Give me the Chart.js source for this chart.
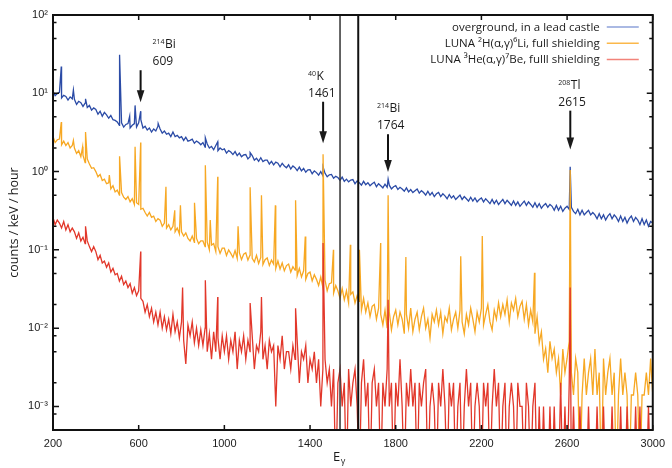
<!DOCTYPE html>
<html>
<head>
<meta charset="utf-8">
<script src="https://cdn.jsdelivr.net/npm/chart.js@4/dist/chart.umd.min.js"></script>
<style>
  body { margin: 0; background: #fff; }
  canvas { display: block; }
</style>
</head>
<body>
<canvas id="spectrum" width="672" height="468"></canvas>
<script>
// Channel grid of the spectra (keV), one value every 10 keV from 200 to 3000.
const E_START = 200;
const E_STEP = 10;

// Overground detector, in a lead castle (counts / keV / hour)
const blueValues = [
  10.6, 9.3, 9.9, 10.3, 8.7, 9.4, 9.1, 8.2, 9.0, 8.5,
  8.4, 7.2, 7.9, 7.6, 6.8, 7.5, 6.6, 7.0, 6.1, 6.5,
  6.2, 5.4, 5.9, 5.1, 5.7, 5.3, 4.8, 5.2, 4.6, 4.5,
  4.3, 3.9, 4.2, 3.7, 4.0, 4.1, 3.6, 3.9, 4.1, 3.7,
  4.2, 4.6, 3.6, 3.8, 3.4, 3.6, 3.2, 3.5, 3.3, 3.8,
  3.5, 3.1, 3.3, 3.0, 3.1, 2.8, 3.2, 2.8, 2.9, 2.7,
  2.8, 2.5, 2.75, 2.45, 2.5, 2.6, 2.3, 2.45, 2.35, 2.2,
  2.35, 2.05, 2.25, 2.0, 2.1, 1.9, 2.15, 1.85, 2.0, 1.9,
  1.95, 1.72, 1.85, 1.78, 1.65, 1.8, 1.6, 1.72, 1.55, 1.63,
  1.65, 1.45, 1.55, 1.6, 1.4, 1.48, 1.35, 1.5, 1.34, 1.4,
  1.4, 1.25, 1.35, 1.22, 1.32, 1.28, 1.15, 1.27, 1.18, 1.12,
  1.22, 1.08, 1.18, 1.12, 1.03, 1.14, 1.02, 1.1, 0.98, 1.05,
  1.06, 0.94, 1.02, 0.97, 0.9, 1.0, 0.88, 0.95, 0.86, 0.91,
  0.92, 0.82, 0.87, 0.84, 0.77, 0.85, 0.75, 0.8, 0.74, 0.78,
  0.79, 0.7, 0.76, 0.72, 0.67, 0.75, 0.68, 0.72, 0.66, 0.7,
  0.73, 0.64, 0.7, 0.66, 0.62, 0.69, 0.63, 0.67, 0.6, 0.64,
  0.66, 0.59, 0.63, 0.6, 0.56, 0.62, 0.55, 0.59, 0.54, 0.57,
  0.6, 0.53, 0.57, 0.54, 0.5, 0.56, 0.5, 0.54, 0.48, 0.52,
  0.54, 0.48, 0.52, 0.49, 0.45, 0.51, 0.46, 0.49, 0.44, 0.47,
  0.5, 0.44, 0.48, 0.45, 0.42, 0.47, 0.42, 0.46, 0.41, 0.44,
  0.46, 0.41, 0.45, 0.42, 0.39, 0.44, 0.39, 0.43, 0.38, 0.41,
  0.44, 0.39, 0.43, 0.4, 0.37, 0.42, 0.37, 0.41, 0.36, 0.39,
  0.42, 0.37, 0.41, 0.38, 0.35, 0.4, 0.35, 0.39, 0.34, 0.37,
  0.39, 0.35, 0.38, 0.36, 0.32, 0.37, 0.32, 0.36, 0.31, 0.34,
  0.36, 0.33, 0.35, 0.31, 0.29, 0.33, 0.28, 0.32, 0.28, 0.3,
  0.32, 0.28, 0.3, 0.28, 0.25, 0.29, 0.25, 0.28, 0.24, 0.27,
  0.29, 0.25, 0.28, 0.26, 0.23, 0.27, 0.23, 0.26, 0.22, 0.25,
  0.27, 0.23, 0.26, 0.24, 0.21, 0.25, 0.21, 0.24, 0.2, 0.23,
  0.22
];
const bluePeakE = [238.6, 295.2, 351.9, 510.8, 558, 583.2, 609.3, 691, 911.2, 969, 1120.3, 1460.8, 1764.5, 2614.5];
const bluePeakV = [22, 11, 8.5, 31, 5.1, 7.0, 5.9, 4.1, 2.7, 2.4, 1.75, 1.15, 0.8, 1.15];

// LUNA 2H(a,g)6Li, full shielding
const orangeValues = [
  2.8, 2.35, 2.55, 2.6, 2.2, 2.45, 2.15, 2.35, 2.0, 2.15,
  2.0, 1.7, 1.85, 1.55, 1.62, 1.3, 1.45, 1.25, 1.1, 1.12,
  1.0, 0.86, 0.92, 0.77, 0.8, 0.7, 0.72, 0.6, 0.66, 0.55,
  0.58, 0.5, 0.54, 0.47, 0.44, 0.48, 0.41, 0.45, 0.38, 0.4,
  0.38, 0.33, 0.34, 0.3, 0.27, 0.3, 0.26, 0.27, 0.23, 0.25,
  0.24, 0.2, 0.22, 0.19, 0.21, 0.18, 0.2, 0.17, 0.19, 0.16,
  0.17, 0.15, 0.165, 0.14, 0.13, 0.15, 0.125, 0.14, 0.12, 0.13,
  0.13, 0.11, 0.125, 0.1, 0.115, 0.12, 0.095, 0.11, 0.09, 0.105,
  0.105, 0.085, 0.1, 0.09, 0.08, 0.098, 0.078, 0.092, 0.075, 0.088,
  0.092, 0.074, 0.086, 0.078, 0.07, 0.085, 0.067, 0.08, 0.065, 0.075,
  0.079, 0.063, 0.074, 0.066, 0.058, 0.072, 0.057, 0.068, 0.054, 0.063,
  0.066, 0.052, 0.061, 0.055, 0.047, 0.058, 0.045, 0.054, 0.042, 0.05,
  0.052, 0.04, 0.048, 0.042, 0.035, 0.045, 0.033, 0.041, 0.03, 0.037,
  0.038, 0.028, 0.035, 0.03, 0.024, 0.032, 0.023, 0.03, 0.021, 0.027,
  0.029, 0.021, 0.026, 0.022, 0.017, 0.024, 0.016, 0.021, 0.014, 0.019,
  0.02, 0.013, 0.018, 0.015, 0.011, 0.017, 0.01, 0.016, 0.0095, 0.014,
  0.017, 0.011, 0.016, 0.013, 0.0085, 0.015, 0.01, 0.018, 0.009, 0.013,
  0.016, 0.0095, 0.014, 0.018, 0.01, 0.013, 0.0075, 0.015, 0.012, 0.017,
  0.011, 0.016, 0.0085, 0.014, 0.012, 0.018, 0.0095, 0.013, 0.016, 0.01,
  0.017, 0.012, 0.0085, 0.015, 0.011, 0.018, 0.013, 0.009, 0.016, 0.012,
  0.018, 0.011, 0.015, 0.02, 0.012, 0.0095, 0.017, 0.013, 0.021, 0.014,
  0.02, 0.015, 0.023, 0.012, 0.021, 0.017, 0.024, 0.014, 0.019, 0.022,
  0.013, 0.02, 0.011, 0.017, 0.012, 0.0085, 0.014, 0.0065, 0.009, 0.004,
  0.0055, 0.0027, 0.0068, 0.0041, 0.0054, 0.0027, 0.0041, 0.0014, 0.0054, 0.0027,
  0.0041, 0.0068, 0.0027, 0.0014, 0.0041, 0.0027, 0, 0.0014, 0.0041, 0.0014,
  0.0027, 0.0041, 0.0014, 0.0054, 0.0014, 0.0027, 0, 0.0041, 0.0014, 0.0027,
  0.0041, 0.0014, 0.0027, 0, 0.0014, 0.0041, 0.0014, 0.0027, 0.0014, 0,
  0.0014, 0.0014, 0.0027, 0.0014, 0, 0.0014, 0.0014, 0.0027, 0.0014, 0.0041,
  0.0014
];
const orangePeakE = [238.6, 295.2, 338.3, 351.9, 463, 510.8, 583.2, 609.3, 727.3, 768.4, 794.9, 860.6,
  911.2, 934.1, 969, 1064, 1120.3, 1173.2, 1238.1, 1332.5, 1377.7, 1460.8, 1509.2, 1588.2,
  1630.6, 1729.6, 1764.5, 1847.4, 2103.5, 2204.1, 2447.9, 2614.5];
const orangePeakV = [4.3, 2.5, 2.07, 3.2, 0.9, 1.57, 2.07, 2.35, 0.64, 0.32, 0.37, 0.4,
  1.2, 0.24, 0.86, 0.2, 0.63, 0.5, 0.37, 0.43, 0.148, 1.67, 0.1, 0.116,
  0.1, 0.122, 0.5, 0.081, 0.083, 0.15, 0.051, 1.05];

// LUNA 3He(a,g)7Be, full shielding
const redValues = [
  0.26, 0.21, 0.24, 0.22, 0.19, 0.23, 0.18, 0.21, 0.17, 0.19,
  0.17, 0.14, 0.165, 0.13, 0.145, 0.12, 0.13, 0.11, 0.095, 0.11,
  0.095, 0.075, 0.085, 0.068, 0.072, 0.06, 0.068, 0.052, 0.058, 0.048,
  0.05, 0.04, 0.046, 0.036, 0.04, 0.033, 0.037, 0.028, 0.033, 0.026,
  0.03, 0.024, 0.022, 0.016, 0.02, 0.014, 0.018, 0.012, 0.016, 0.011,
  0.016, 0.01, 0.014, 0.0095, 0.013, 0.0085, 0.015, 0.009, 0.012, 0.0075,
  0.012, 0.007, 0.0035, 0.011, 0.008, 0.012, 0.0065, 0.01, 0.006, 0.0095,
  0.006, 0.01, 0.005, 0.0085, 0.004, 0.009, 0.005, 0.0075, 0.004, 0.008,
  0.005, 0.008, 0.004, 0.007, 0.005, 0.009, 0.003, 0.007, 0.005, 0.008,
  0.004, 0.007, 0.005, 0.008, 0.003, 0.006, 0.005, 0.009, 0.004, 0.006,
  0.003, 0.007, 0.005, 0.006, 0.001, 0.006, 0.004, 0.008, 0.003, 0.005,
  0.005, 0.003, 0.006, 0.004, 0.007, 0.002, 0.005, 0.004, 0.006, 0.002,
  0.004, 0.003, 0.005, 0.002, 0.004, 0.001, 0.003, 0.004, 0.002, 0.003,
  0.001, 0.003, 0, 0.002, 0.003, 0.001, 0.002, 0, 0.003, 0.001,
  0.002, 0.003, 0.001, 0, 0.002, 0.004, 0.001, 0.002, 0, 0.002,
  0.003, 0.001, 0.002, 0, 0.002, 0.001, 0.003, 0.001, 0.002, 0,
  0.002, 0.001, 0.004, 0.001, 0, 0.002, 0.001, 0.003, 0.001, 0.002,
  0, 0.002, 0.001, 0.002, 0.003, 0, 0.001, 0.002, 0.001, 0,
  0.002, 0.001, 0.003, 0.001, 0, 0.002, 0.001, 0.002, 0, 0.001,
  0.002, 0, 0.001, 0.003, 0.001, 0.002, 0, 0.001, 0.002, 0.001,
  0, 0.002, 0.001, 0.002, 0, 0.001, 0.003, 0.001, 0.002, 0,
  0.001, 0.002, 0, 0.001, 0.002, 0.001, 0, 0.002, 0.001, 0.001,
  0, 0.002, 0.001, 0, 0.001, 0.002, 0, 0.001, 0, 0.001,
  0, 0, 0.001, 0, 0.001, 0, 0, 0.002, 0, 0.001,
  0, 0.002, 0, 0.001, 0, 0, 0.001, 0, 0, 0,
  0.001, 0, 0, 0, 0.001, 0, 0, 0.001, 0, 0,
  0, 0.001, 0, 0, 0, 0.001, 0, 0, 0.001, 0,
  0, 0, 0.001, 0, 0.001, 0, 0, 0, 0.001, 0,
  0
];
const redPeakE = [351.9, 609.3, 805, 911.2, 969, 1120.3, 1173.2, 1332.5, 1460.8, 1764.5, 2614.5];
const redPeakV = [0.2, 0.095, 0.033, 0.041, 0.025, 0.021, 0.025, 0.018, 0.122, 0.023, 0.033];

const seriesLabels = [
  'overground, in a lead castle',
  'LUNA ²H(α,γ)⁶Li, full shielding',
  'LUNA ³He(α,γ)⁷Be, fulll shielding'
];

// Axis ticks
const xTickValues = [200, 600, 1000, 1400, 1800, 2200, 2600, 3000];
const yTickValues = [0.001, 0.01, 0.1, 1, 10, 100];
const yMinorFactors = [2, 5, 8];

// The two vertical marker lines (keV)
const cutEnergies = [1540, 1625];

// Peak annotations: arrow start / tip in counts/keV/hour
const annoEnergy = [609, 1461, 1764, 2615];
const annoIso = ['214', '40', '214', '208'];
const annoElem = ['Bi', 'K', 'Bi', 'Tl'];
const annoArrowTop = [19.7, 7.8, 3.0, 6.0];
const annoArrowTip = [7.7, 2.3, 0.99, 1.92];
const annoDx = [12, -15, -11, -12];

// zero-count channels are drawn down past the bottom of the axis
const ZERO_FLOOR = 1e-4;

function buildPoints(values, peakE, peakV) {
  const pts = values.map((v, i) => ({ x: E_START + i * E_STEP, y: v > 0 ? v : ZERO_FLOOR }));
  peakE.forEach((e, i) => pts.push({ x: e, y: peakV[i] }));
  pts.sort((a, b) => a.x - b.x);
  return pts;
}

const SUP = { '-': '⁻', '0': '⁰', '1': '¹', '2': '²', '3': '³' };
const legendColors = ['#8ea2da', '#fbb84a', '#f2837a'];
const TEXT = '#1a1a1a';

const decorations = {
  id: 'decorations',
  afterDatasetsDraw(chart) {
    const { ctx, chartArea: a, scales: { x, y } } = chart;
    ctx.save();

    // vertical marker lines
    cutEnergies.forEach((e, i) => {
      const px = x.getPixelForValue(e);
      ctx.lineWidth = i == 0 ? 1.5 : 2;
      ctx.strokeStyle = i == 0 ? '#333' : '#111';
      ctx.beginPath(); ctx.moveTo(px, a.top); ctx.lineTo(px, a.bottom); ctx.stroke();
    });

    // frame
    ctx.strokeStyle = '#111';
    ctx.lineWidth = 2;
    ctx.strokeRect(a.left, a.top, a.right - a.left, a.bottom - a.top);

    // inward ticks
    ctx.lineWidth = 1.5;
    ctx.beginPath();
    xTickValues.forEach(v => {
      const px = x.getPixelForValue(v);
      ctx.moveTo(px, a.bottom); ctx.lineTo(px, a.bottom - 5);
      ctx.moveTo(px, a.top); ctx.lineTo(px, a.top + 5);
    });
    const minor = m => {
      if (m < y.min || m > y.max) return;
      const pm = y.getPixelForValue(m);
      ctx.moveTo(a.left, pm); ctx.lineTo(a.left + 3.5, pm);
      ctx.moveTo(a.right, pm); ctx.lineTo(a.right - 3.5, pm);
    };
    yTickValues.forEach(v => {
      const py = y.getPixelForValue(v);
      ctx.moveTo(a.left, py); ctx.lineTo(a.left + 6, py);
      ctx.moveTo(a.right, py); ctx.lineTo(a.right - 6, py);
      yMinorFactors.forEach(f => minor(v * f));
    });
    yMinorFactors.forEach(f => minor(yTickValues[0] / 10 * f));
    ctx.stroke();

    // annotations with arrows
    ctx.fillStyle = TEXT;
    ctx.strokeStyle = '#111';
    ctx.textAlign = 'left';
    ctx.textBaseline = 'alphabetic';
    annoEnergy.forEach((e, i) => {
      const px = x.getPixelForValue(e);
      const top = y.getPixelForValue(annoArrowTop[i]);
      const tip = y.getPixelForValue(annoArrowTip[i]);
      const left = px + annoDx[i];
      ctx.font = '7px "Open Sans", sans-serif';
      ctx.fillText(annoIso[i], left, top - 26);
      const w = ctx.measureText(annoIso[i]).width;
      ctx.font = '12px "Open Sans", sans-serif';
      ctx.fillText(annoElem[i], left + w + 0.5, top - 22);
      ctx.fillText(String(annoEnergy[i]), left, top - 5);
      ctx.lineWidth = 2;
      ctx.beginPath(); ctx.moveTo(px, top); ctx.lineTo(px, tip - 8); ctx.stroke();
      ctx.beginPath();
      ctx.moveTo(px - 3.8, tip - 12); ctx.lineTo(px + 3.8, tip - 12); ctx.lineTo(px, tip);
      ctx.closePath(); ctx.fill();
    });

    // legend, top right
    ctx.font = '11.5px "Open Sans", sans-serif';
    ctx.textAlign = 'right';
    seriesLabels.forEach((lab, i) => {
      const base = a.top + 15.5 + i * 16.3;
      ctx.fillStyle = TEXT;
      ctx.fillText(lab, a.right - 53, base);
      ctx.strokeStyle = legendColors[i];
      ctx.lineWidth = 1.5;
      ctx.beginPath(); ctx.moveTo(a.right - 46, base - 3.5); ctx.lineTo(a.right - 14, base - 3.5); ctx.stroke();
    });

    // axis titles
    ctx.fillStyle = TEXT;
    ctx.textAlign = 'left';
    ctx.font = '13px "Open Sans", sans-serif';
    const ex = a.left + (a.right - a.left) * 0.467;
    ctx.fillText('E', ex, a.bottom + 31);
    const ew = ctx.measureText('E').width;
    ctx.font = '9px "Open Sans", sans-serif';
    ctx.fillText('γ', ex + ew + 0.5, a.bottom + 34);

    ctx.translate(18, (a.top + a.bottom) / 2);
    ctx.rotate(-Math.PI / 2);
    ctx.textAlign = 'center';
    ctx.font = '12.5px "Open Sans", sans-serif';
    ctx.fillText('counts / keV / hour', 0, 0);
    ctx.restore();
  }
};

const lineStyle = { borderWidth: 1.3, pointRadius: 0, tension: 0, fill: false };
const tickFont = { family: '"Liberation Sans", Arial, sans-serif', size: 11 };

new Chart(document.getElementById('spectrum'), {
  type: 'line',
  data: {
    datasets: [
      Object.assign({ label: seriesLabels[0], data: buildPoints(blueValues, bluePeakE, bluePeakV),
        borderColor: '#2b4ba6', order: 3 }, lineStyle),
      Object.assign({ label: seriesLabels[1], data: buildPoints(orangeValues, orangePeakE, orangePeakV),
        borderColor: '#f7a823', order: 2 }, lineStyle),
      Object.assign({ label: seriesLabels[2], data: buildPoints(redValues, redPeakE, redPeakV),
        borderColor: '#e2372a', order: 1 }, lineStyle)
    ]
  },
  options: {
    responsive: false,
    animation: false,
    events: [],
    layout: { padding: { top: 15, right: 14, left: 0, bottom: 0 } },
    plugins: { legend: { display: false }, tooltip: { enabled: false } },
    scales: {
      x: {
        type: 'linear',
        min: 200,
        max: 3000,
        grid: { display: false, drawTicks: false },
        border: { display: false },
        afterBuildTicks: s => { s.ticks = xTickValues.map(v => ({ value: v })); },
        afterFit: s => { s.height = 38; },
        ticks: {
          autoSkip: false, maxRotation: 0, padding: 7, color: TEXT, font: tickFont,
          callback: v => String(v)
        }
      },
      y: {
        type: 'logarithmic',
        min: 5e-4,
        max: 100,
        grid: { display: false, drawTicks: false },
        border: { display: false },
        afterBuildTicks: s => { s.ticks = yTickValues.map(v => ({ value: v })); },
        afterFit: s => { s.width = 53; },
        ticks: {
          padding: 5, color: TEXT, font: tickFont,
          callback: v => '10' + String(Math.round(Math.log10(v))).split('').map(c => SUP[c]).join('')
        }
      }
    }
  },
  plugins: [decorations]
});
</script>
</body>
</html>
